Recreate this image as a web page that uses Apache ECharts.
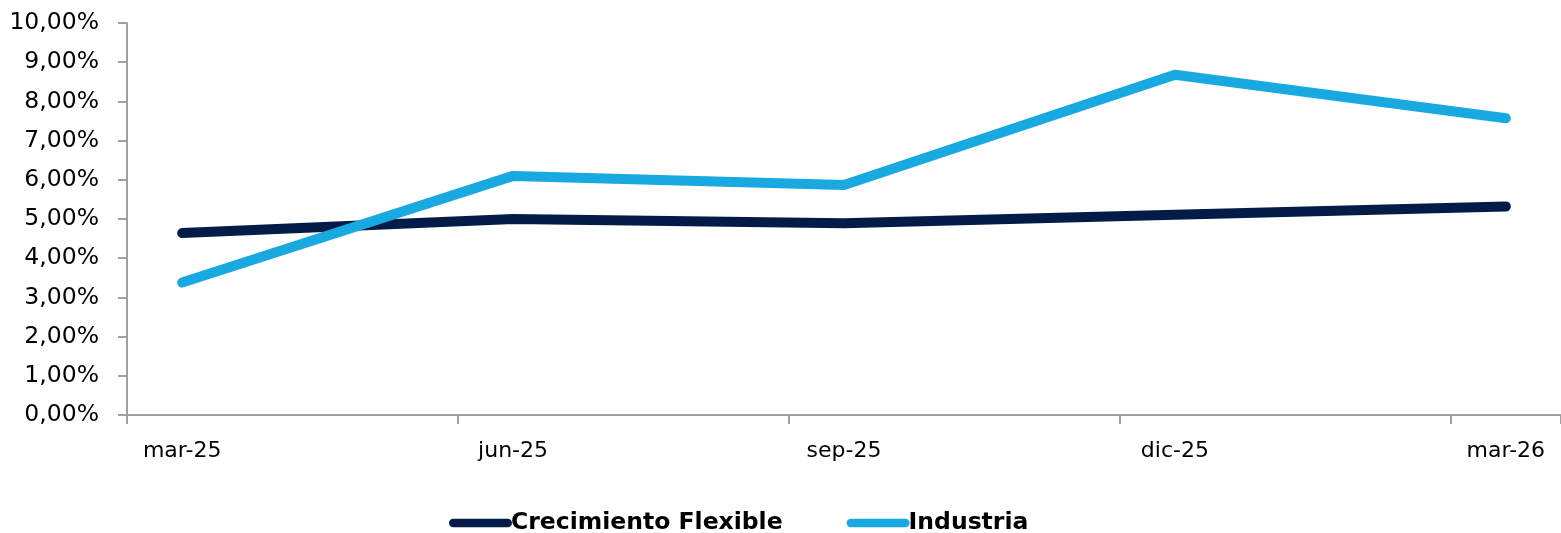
<!DOCTYPE html>
<html>
<head>
<meta charset="utf-8">
<script src="https://cdn.jsdelivr.net/npm/echarts@6/dist/echarts.min.js"></script>
<style>
  html, body { margin: 0; padding: 0; background: #ffffff; }
  #chart { width: 1561px; height: 533px; }
</style>
</head>
<body>
<div id="chart"></div>
<script>
// Monthly axis from mar-25 to mar-26; only quarter months carry a reading.
const months = ['mar-25', 'abr-25', 'may-25', 'jun-25', 'jul-25', 'ago-25', 'sep-25',
                'oct-25', 'nov-25', 'dic-25', 'ene-26', 'feb-26', 'mar-26'];
const quarters = ['mar-25', 'jun-25', 'sep-25', 'dic-25', 'mar-26'];

// Rates in percent
const crecimientoFlexible = [4.64, 5.00, 4.89, 5.11, 5.32];
const industria = [3.38, 6.10, 5.87, 8.68, 7.57];

const yTicks = [0, 1, 2, 3, 4, 5, 6, 7, 8, 9, 10];

const seriesNames = ['Crecimiento Flexible', 'Industria'];
const seriesColors = ['#021C47', '#18A9E1'];

function spread(values) {
  return months.map(m => {
    const i = quarters.indexOf(m);
    return i >= 0 ? values[i] : null;
  });
}

const pill = 'path://M4,0 L56,0 A4,4 0 0 1 56,8 L4,8 A4,4 0 0 1 4,0 Z';
const font = 'DejaVu Sans';

const chart = echarts.init(document.getElementById('chart'), null, { renderer: 'canvas' });

chart.setOption({
  animation: false,
  backgroundColor: '#ffffff',
  grid: { left: 127, right: -2, top: 23, bottom: 118, containLabel: false },
  legend: {
    left: 444,
    top: 506,
    itemWidth: 63,
    itemHeight: 9,
    itemGap: 64,
    icon: pill,
    data: seriesNames.map((n, i) => ({ name: n, icon: pill, itemStyle: { color: seriesColors[i] } })),
    textStyle: { fontFamily: font, fontSize: 23.5, fontWeight: 'bold', color: '#000000', padding: [0, 0, 0, -6] }
  },
  xAxis: {
    type: 'category',
    data: months,
    boundaryGap: true,
    axisLine: { show: true, lineStyle: { color: '#A0A0A0', width: 2 } },
    axisTick: { show: true, interval: 2, length: 9, lineStyle: { color: '#A0A0A0', width: 2 } },
    axisLabel: { interval: 2, margin: 25, fontFamily: font, fontSize: 22, color: '#000000' },
    splitLine: { show: false }
  },
  yAxis: {
    type: 'value',
    min: yTicks[0],
    max: yTicks[yTicks.length - 1],
    interval: 1,
    axisLine: { show: true, lineStyle: { color: '#A0A0A0', width: 2 } },
    axisTick: { show: true, length: 9, lineStyle: { color: '#A0A0A0', width: 2 } },
    axisLabel: {
      margin: 28,
      fontFamily: font,
      fontSize: 23.5,
      color: '#000000',
      formatter: v => v.toFixed(2).replace('.', ',') + '%'
    },
    splitLine: { show: false }
  },
  series: [
    {
      name: seriesNames[0],
      type: 'line',
      data: spread(crecimientoFlexible),
      connectNulls: true,
      symbol: 'none',
      color: seriesColors[0],
      lineStyle: { width: 10, color: seriesColors[0], cap: 'round', join: 'round' }
    },
    {
      name: seriesNames[1],
      type: 'line',
      data: spread(industria),
      connectNulls: true,
      symbol: 'none',
      color: seriesColors[1],
      lineStyle: { width: 10, color: seriesColors[1], cap: 'round', join: 'round' }
    }
  ]
});
</script>
</body>
</html>
